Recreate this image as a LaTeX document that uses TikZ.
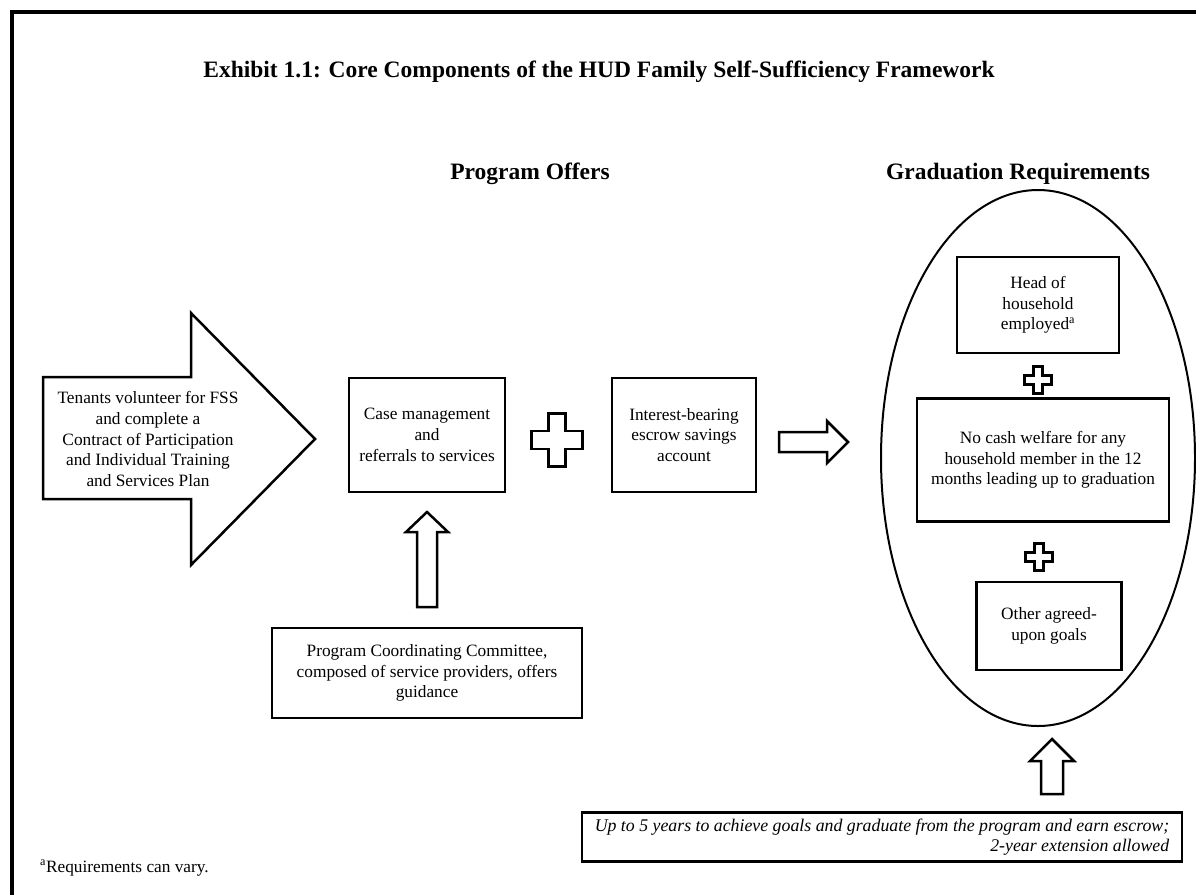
\documentclass[tikz,border=0pt]{standalone}
\usepackage{fontspec}
\setmainfont{Liberation Serif}
\usetikzlibrary{shapes.geometric}

\tikzset{
  box/.style={draw,line width=2.5pt,align=center,inner sep=0pt,font=\fontsize{17.3}{20.7}\selectfont},
  txt/.style={align=center,inner sep=0pt,font=\fontsize{17.3}{20.7}\selectfont},
  heading/.style={inner sep=0pt,font=\fontsize{23.5}{27}\selectfont\bfseries},
  blockarrow/.style={draw,line width=2.5pt,line join=miter},
  plus/.pic={\draw[line width=2.5pt,line join=miter] (-1,-3) -- (1,-3) -- (1,-1) -- (3,-1) -- (3,1) -- (1,1) -- (1,3) -- (-1,3) -- (-1,1) -- (-3,1) -- (-3,-1) -- (-1,-1) -- cycle;},
}

\begin{document}
\begin{tikzpicture}[x=1pt,y=-1pt]
\useasboundingbox (0,0) rectangle (1196,895);
% frame
\draw[line width=3.5pt] (12,895) -- (12,12) -- (1196,12);

% headings
\node[heading] (title) at (599,72) {Exhibit 1.1: Core Components of the HUD Family Self-Sufficiency Framework};
\node[heading] (offers) at (530,174) {Program Offers};
\node[heading] (gradreq) at (1018,174) {Graduation Requirements};

% entry arrow
\draw[blockarrow] (43,377) -- (191,377) -- (191,313) -- (315,439) -- (191,565) -- (191,499) -- (43,499) -- cycle;
\node[txt] (tenants) at (148,439) {Tenants volunteer for FSS\\and complete a\\Contract of Participation\\and Individual Training\\and Services Plan};

% program offers
\node[box,minimum width=156pt,minimum height=114pt] (casemgmt) at (427,435) {Case management\\and\\referrals to services};
\node[box,minimum width=144pt,minimum height=114pt] (escrow) at (684,435) {Interest-bearing\\escrow savings\\account};
\pic[xscale=8.5,yscale=8.8] (plusA) at (557,440) {plus};
\draw[blockarrow] (779,432) -- (827,432) -- (827,421) -- (848,442) -- (827,463) -- (827,452) -- (779,452) -- cycle;

\node[box,minimum width=310pt,minimum height=90pt] (committee) at (427,673) {Program Coordinating Committee,\\composed of service providers, offers\\guidance};
\draw[blockarrow] (417,607) -- (417,532) -- (406,532) -- (427,512) -- (448,532) -- (437,532) -- (437,607) -- cycle;

% graduation requirements
\node[draw,ellipse,line width=2pt,minimum width=314pt,minimum height=536pt] (grad) at (1038,458) {};
\node[box,minimum width=162pt,minimum height=96pt] (employed) at (1038,305) {Head of\\household\\employed\textsuperscript{a}};
\pic[scale=4.5] (plusB) at (1038,380) {plus};
\node[box,minimum width=252pt,minimum height=123pt] (welfare) at (1043,460) {No cash welfare for any\\household member in the 12\\months leading up to graduation};
\pic[scale=4.5] (plusC) at (1039,557) {plus};
\node[box,minimum width=145pt,minimum height=88pt] (goals) at (1049,626) {Other agreed-\\upon goals};

\node[box,align=right,minimum width=600pt,minimum height=49pt,font=\fontsize{17.8}{20}\selectfont\itshape] (limit) at (882,837) {Up to 5 years to achieve goals and graduate from the program and earn escrow;\\2-year extension allowed};
\draw[blockarrow] (1041,794) -- (1041,761) -- (1030,761) -- (1052,739) -- (1074,761) -- (1063,761) -- (1063,794) -- cycle;

\node[txt,anchor=west] (note) at (40,868) {\textsuperscript{a}Requirements can vary.};
\end{tikzpicture}
\end{document}
